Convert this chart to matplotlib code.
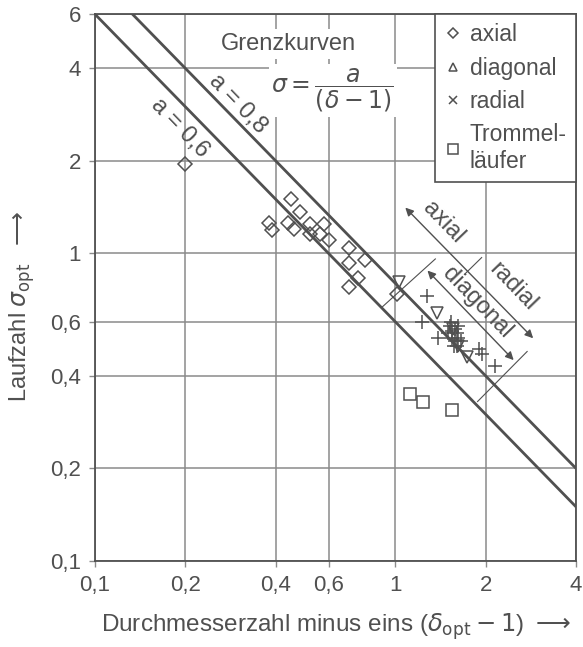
import matplotlib
matplotlib.use("Agg")
import matplotlib.pyplot as plt
from matplotlib.lines import Line2D
from matplotlib.ticker import FixedLocator, FixedFormatter, NullLocator

plt.rcParams['font.family'] = ['Liberation Sans', 'DejaVu Sans']
plt.rcParams['mathtext.fontset'] = 'dejavusans'

# measured points: (delta_opt - 1, sigma_opt)
axial_x = [0.20, 0.45, 0.48, 0.38, 0.39, 0.44, 0.46, 0.52, 0.52, 0.58, 0.56,
           0.60, 0.70, 0.79, 0.70, 0.75, 0.70, 1.01]
axial_y = [1.95, 1.50, 1.36, 1.26, 1.19, 1.26, 1.20, 1.25, 1.16, 1.25, 1.16,
           1.11, 1.04, 0.95, 0.93, 0.83, 0.78, 0.74]

diag_x = [1.03, 1.38, 1.73, 1.56, 1.62]
diag_y = [0.81, 0.64, 0.46, 0.57, 0.50]

radial_x = [1.28, 1.23, 1.39, 1.90, 1.95, 2.15, 1.52, 1.55, 1.58, 1.60, 1.55,
            1.58, 1.62, 1.50, 1.57, 1.60, 1.65, 1.53, 1.62]
radial_y = [0.73, 0.60, 0.53, 0.49, 0.47, 0.43, 0.58, 0.56, 0.57, 0.55, 0.53,
            0.52, 0.53, 0.55, 0.50, 0.50, 0.52, 0.60, 0.58]

drum_x = [1.12, 1.24, 1.55]
drum_y = [0.35, 0.33, 0.31]

# limit curves sigma = a / (delta - 1)
a_values = [0.6, 0.8]
curve_x = [0.1, 4.0]

x_ticks = [0.1, 0.2, 0.4, 0.6, 1, 2, 4]
x_labels = ['0,1', '0,2', '0,4', '0,6', '1', '2', '4']
y_ticks = [0.1, 0.2, 0.4, 0.6, 1, 2, 4, 6]
y_labels = ['0,1', '0,2', '0,4', '0,6', '1', '2', '4', '6']

ink = '#505050'
grid_c = '#8a8a8a'
fs = 16

fig = plt.figure(figsize=(5.83, 6.47), dpi=100)
ax = fig.add_axes([0.163, 0.133, 0.825, 0.845])
ax.set_xscale('log')
ax.set_yscale('log')
ax.set_xlim(0.1, 4)
ax.set_ylim(0.1, 6)

ax.xaxis.set_major_locator(FixedLocator(x_ticks))
ax.xaxis.set_major_formatter(FixedFormatter(x_labels))
ax.yaxis.set_major_locator(FixedLocator(y_ticks))
ax.yaxis.set_major_formatter(FixedFormatter(y_labels))
ax.xaxis.set_minor_locator(NullLocator())
ax.yaxis.set_minor_locator(NullLocator())
ax.tick_params(labelsize=fs, colors=ink, length=4, width=1, color=grid_c,
               pad=6)
ax.grid(True, color=grid_c, lw=1.1, zorder=0)
ax.set_axisbelow(True)
for s in ax.spines.values():
    s.set_color(ink)
    s.set_linewidth(1.3)

for a in a_values:
    ax.plot(curve_x, [a / v for v in curve_x], color=ink, lw=2, zorder=3)

ms_kw = dict(ls='none', mfc='none', mec=ink, mew=1.1, zorder=4)
ax.plot(axial_x, axial_y, marker='D', ms=7, **ms_kw)
ax.plot(diag_x, diag_y, marker='v', ms=9, **ms_kw)
ax.plot(radial_x, radial_y, marker='+', ms=10, **ms_kw)
ax.plot(drum_x, drum_y, marker='s', ms=9, **ms_kw)

# curve labels
txt = dict(rotation=-46, rotation_mode='anchor', ha='center', va='center',
           fontsize=17, color=ink)
ax.text(0.30, 3.07, 'a = 0,8', **txt)
ax.text(0.192, 2.56, 'a = 0,6', **txt)

ax.text(0.44, 4.8, 'Grenzkurven', ha='center', va='center', fontsize=17,
        color=ink, bbox=dict(fc='white', ec='none', pad=3), zorder=5)
ax.text(0.62, 3.4, r'$\sigma = \dfrac{a}{(\delta - 1)}$', ha='center',
        va='center', fontsize=17, color=ink,
        bbox=dict(fc='white', ec='none', pad=2), zorder=5)

# range arrows for the machine types
arr = dict(arrowstyle='<|-|>', color=ink, lw=1.0, mutation_scale=12,
           shrinkA=0, shrinkB=0)
ax.annotate('', xy=(2.88, 0.53), xytext=(1.08, 1.41), arrowprops=arr)
ax.annotate('', xy=(2.48, 0.45), xytext=(1.28, 0.88), arrowprops=arr)
ax.plot([1.70, 1.94], [0.855, 0.97], color=ink, lw=0.8)
ax.plot([1.36, 0.905], [0.96, 0.67], color=ink, lw=0.8)
ax.plot([2.75, 1.88], [0.48, 0.33], color=ink, lw=0.8)

ax.text(1.45, 1.26, 'axial', **txt)
ax.text(2.47, 0.78, 'radial', **txt)
ax.text(1.88, 0.69, 'diagonal', **txt)

handles = [
    Line2D([], [], marker='D', ms=5, **ms_kw),
    Line2D([], [], marker='^', ms=6, **ms_kw),
    Line2D([], [], marker='x', ms=6, **ms_kw),
    Line2D([], [], marker='s', ms=7, **ms_kw),
]
leg = ax.legend(handles, ['axial', 'diagonal', 'radial', 'Trommel-\nläufer'],
                loc='upper right', borderaxespad=0, fancybox=False,
                framealpha=1, edgecolor=ink, fontsize=16.5, handlelength=0.7,
                handletextpad=0.4, labelspacing=0.45, borderpad=0.4,
                labelcolor=ink)
leg.get_frame().set_linewidth(1.2)
leg.set_zorder(6)

ax.set_xlabel(r'Durchmesserzahl minus eins ($\delta_{\rm opt} - 1$) $\longrightarrow$',
              fontsize=17.5, color=ink, labelpad=11)
ax.set_ylabel(r'Laufzahl $\sigma_{\rm opt}$  $\longrightarrow$', fontsize=17,
              color=ink)
ax.yaxis.set_label_coords(-0.12, 0.466)

fig.savefig('out.png', dpi=100)
